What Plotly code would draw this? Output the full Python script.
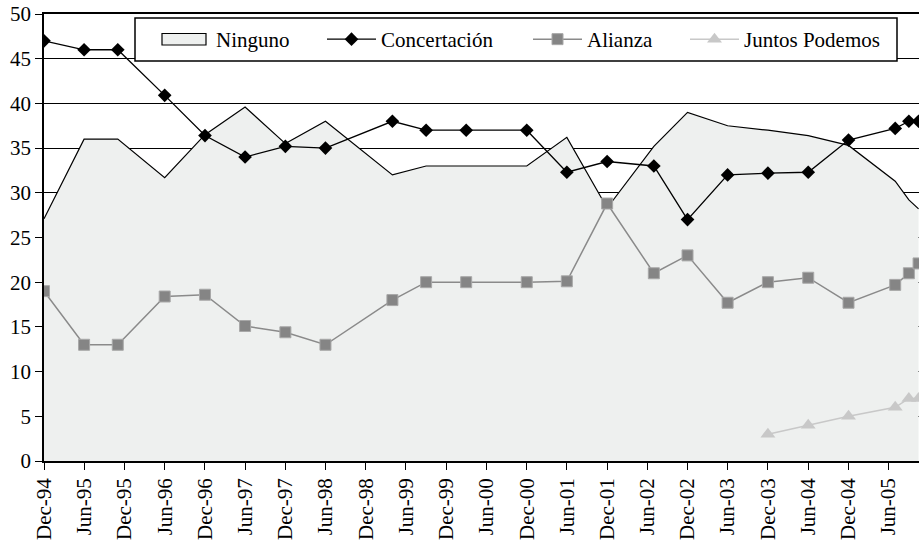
import plotly.graph_objects as go

# Survey dates
dates = ["1994-12-01", "1995-06-01", "1995-11-01", "1996-06-01", "1996-12-01",
         "1997-06-01", "1997-12-01", "1998-06-01", "1999-04-01", "1999-09-01",
         "2000-03-01", "2000-12-01", "2001-06-01", "2001-12-01", "2002-07-01",
         "2002-12-01", "2003-06-01", "2003-12-01", "2004-06-01", "2004-12-01",
         "2005-07-01", "2005-09-01", "2005-10-15"]

ninguno = [27.1, 36.0, 36.0, 31.7, 36.5, 39.6, 35.5, 38.0, 32.0, 33.0,
           33.0, 33.0, 36.2, 28.3, 35.2, 39.0, 37.5, 37.0, 36.4, 35.3,
           31.3, 29.2, 28.2]
concertacion = [47.0, 46.0, 46.0, 40.9, 36.4, 34.0, 35.2, 35.0, 38.0, 37.0,
                37.0, 37.0, 32.3, 33.5, 33.0, 27.0, 32.0, 32.2, 32.3, 35.9,
                37.2, 38.0, 38.0]
alianza = [19.0, 13.0, 13.0, 18.4, 18.6, 15.1, 14.4, 13.0, 18.0, 20.0,
           20.0, 20.0, 20.1, 28.8, 21.0, 23.0, 17.7, 20.0, 20.5, 17.7,
           19.7, 21.0, 22.1]
juntos_dates = ["2003-12-01", "2004-06-01", "2004-12-01", "2005-07-01",
                "2005-09-01", "2005-10-15"]
juntos = [3.0, 4.0, 5.0, 6.0, 7.0, 7.0]

FONT = "Liberation Serif, Times New Roman, Tinos, DejaVu Serif, serif"
FILL = "#EEF0EF"

# plot-area geometry in pixels, to convert pixel positions to paper fractions
PL, PW, PT, PH = 44, 875, 14, 447
def px_x(p):
    return (p - PL) / PW
def px_y(p):
    return 1 - (p - PT) / PH

fig = go.Figure()
fig.add_trace(go.Scatter(
    x=dates, y=ninguno, name="Ninguno", mode="lines",
    fill="tozeroy", fillcolor=FILL, showlegend=False,
    line=dict(color="black", width=1.2),
))
# legend text for Ninguno (its box symbol is drawn as a shape below)
fig.add_trace(go.Scatter(
    x=[None], y=[None], name="Ninguno", mode="lines",
    line=dict(color="rgba(0,0,0,0)", width=0), legend="legend",
))
fig.add_trace(go.Scatter(
    x=dates, y=concertacion, name="Concertación", mode="lines+markers",
    line=dict(color="black", width=1.3),
    marker=dict(symbol="diamond", size=10.5, color="black"),
    legend="legend2",
))
fig.add_trace(go.Scatter(
    x=dates, y=alianza, name="Alianza", mode="lines+markers",
    line=dict(color="#8A8A8A", width=1.5),
    marker=dict(symbol="square", size=11, color="#858585",
                line=dict(color="#A8A8A8", width=1)),
    legend="legend3",
))
fig.add_trace(go.Scatter(
    x=juntos_dates, y=juntos, name="Juntos Podemos", mode="lines+markers",
    line=dict(color="#C8C8C8", width=1.5),
    marker=dict(symbol="triangle-up", size=13, color="#C8C8C8"),
    legend="legend4",
))

# legend frame
fig.add_shape(type="rect", xref="paper", yref="paper",
              x0=px_x(135), x1=px_x(897), y0=px_y(61), y1=px_y(18),
              fillcolor="white", line=dict(color="black", width=1.5),
              layer="above")
# Ninguno legend symbol (area swatch)
fig.add_shape(type="rect", xref="paper", yref="paper",
              x0=px_x(162), x1=px_x(206), y0=px_y(45), y1=px_y(33.5),
              fillcolor=FILL, line=dict(color="black", width=1.2),
              layer="above")

def leg(xpix):
    return dict(
        orientation="h", x=px_x(xpix), y=px_y(39.5), xanchor="left", yanchor="middle",
        bgcolor="rgba(0,0,0,0)", borderwidth=0,
        font=dict(family=FONT, size=21, color="black"),
        itemwidth=49,
    )

fig.update_layout(
    width=919, height=544,
    margin=dict(l=44, r=0, t=14, b=83),
    plot_bgcolor="white", paper_bgcolor="white",
    font=dict(family=FONT, size=21, color="black"),
    showlegend=True,
    legend=leg(157),
    legend2=leg(322),
    legend3=leg(528),
    legend4=leg(685),
    xaxis=dict(
        type="date", automargin=False,
        range=["1994-12-01", "2005-10-17"],
        tick0="1994-12-01", dtick="M6", tickformat="%b-%y",
        tickangle=-90,
        ticks="outside", ticklen=7, tickcolor="black", tickwidth=1.2,
        showline=True, linecolor="black", linewidth=1.5, mirror=True,
        showgrid=False, zeroline=False,
        tickfont=dict(family=FONT, size=21, color="black"),
    ),
    yaxis=dict(
        automargin=False,
        range=[0, 50], dtick=5, tick0=0,
        ticks="outside", ticklen=7, tickcolor="black", tickwidth=1.2,
        showline=True, linecolor="black", linewidth=1.5,
        showgrid=True, gridcolor="black", gridwidth=1,
        zeroline=False,
        tickfont=dict(family=FONT, size=21, color="black"),
    ),
)

fig.write_html("out.html", config={"displayModeBar": False},
               post_script="document.body.style.margin='0px';")
